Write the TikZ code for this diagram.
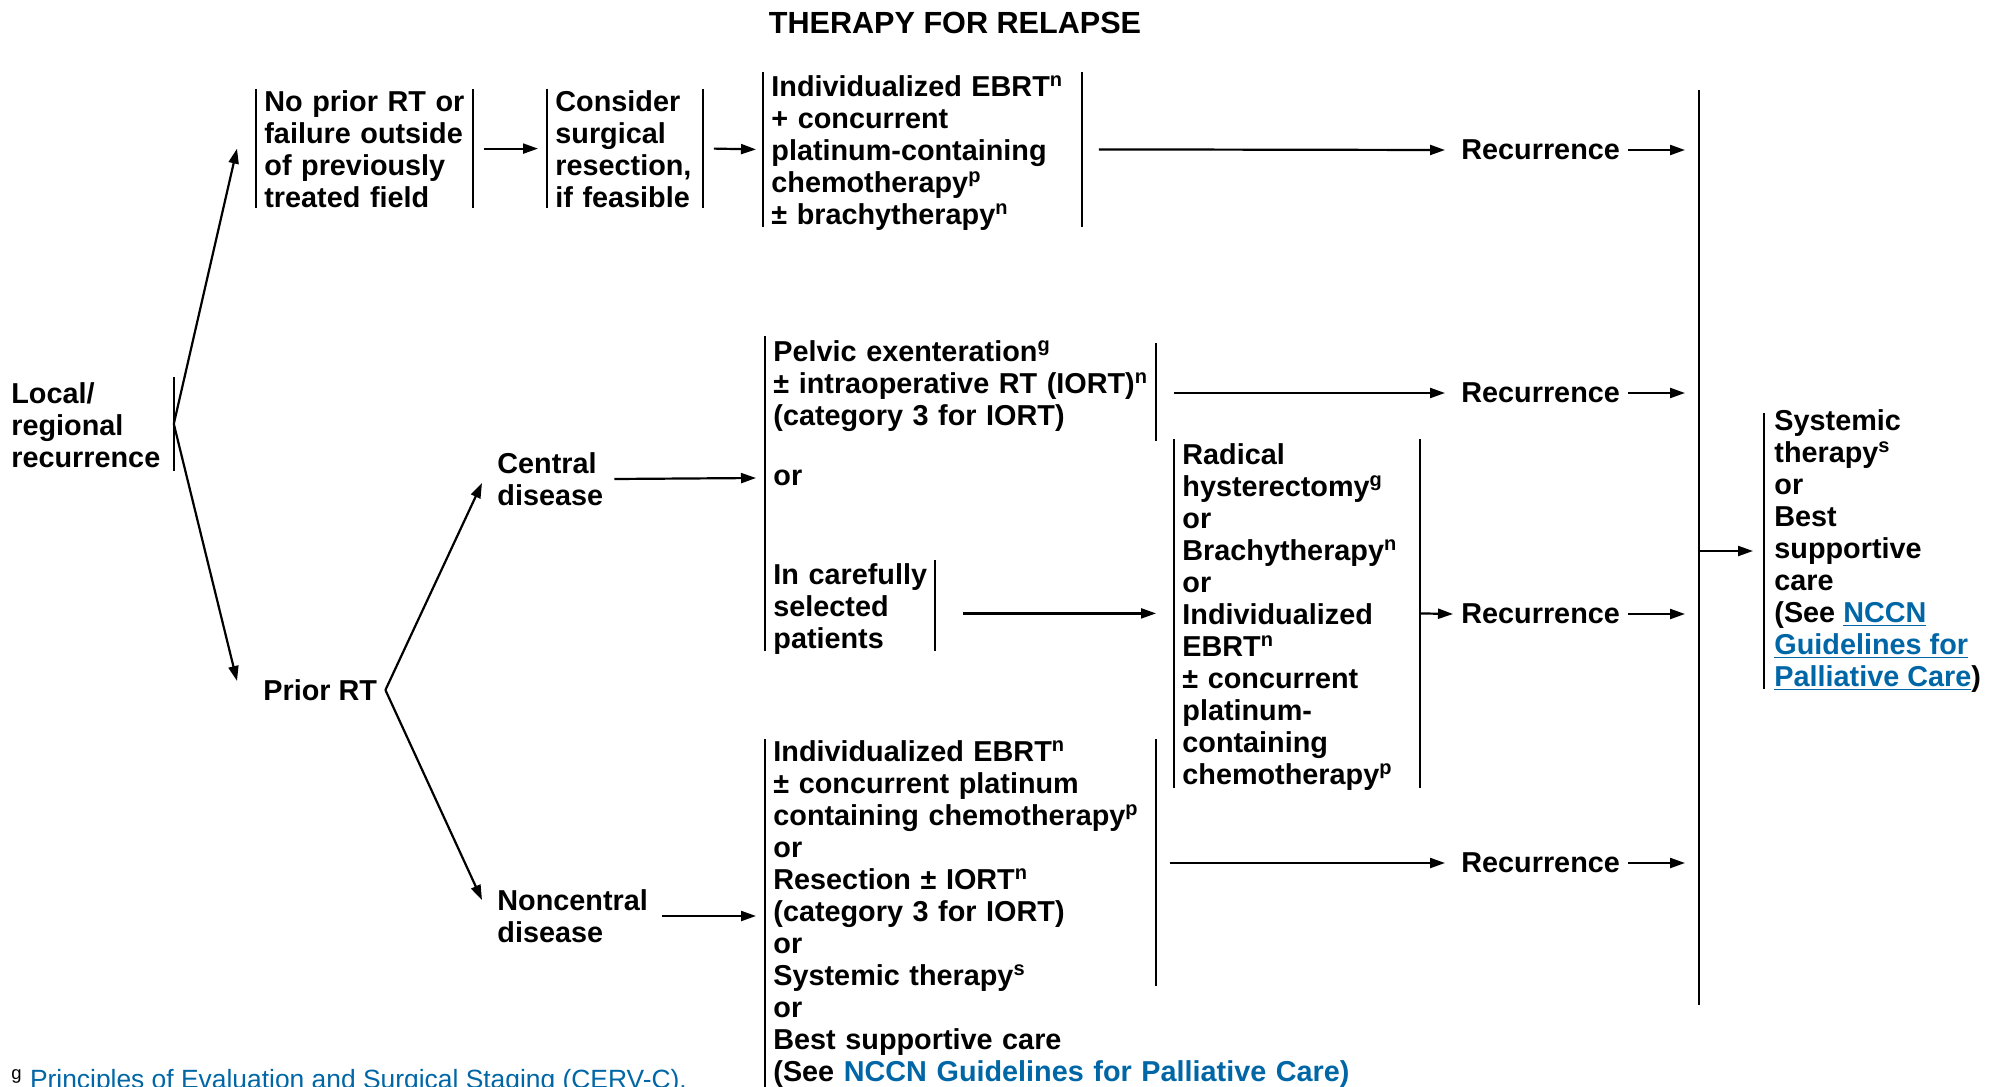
\documentclass[tikz,border=0pt]{standalone}
\usepackage{fontspec}
\setmainfont{Liberation Sans}
\usetikzlibrary{arrows.meta}
\definecolor{linkblue}{RGB}{0,102,166}
\newcommand{\diagfont}{\fontsize{14.4}{16}\selectfont\bfseries}
\newcommand{\lnk}[1]{{\color{linkblue}\underline{#1}}}
\newcommand{\txtlines}[1]{\raisebox{0pt}[\height][\dimexpr\depth-4.8pt\relax]{\begin{tabular}{@{}l@{}}#1\end{tabular}}}
\tikzset{
  txt/.style={font=\diagfont, align=left, inner xsep=4pt, inner ysep=0pt},
  box/.style={font=\diagfont, inner xsep=4pt, inner ysep=0pt, anchor=north west, text width=#1},
  bar/.style={line width=1.3pt},
  arr/.style={line width=1.1pt, -{Triangle[length=7.5pt,width=5pt]}},
}
\begin{document}
\begin{tikzpicture}[x=0.5pt,y=-0.5pt]
  \useasboundingbox (0,0) rectangle (1990,1086);
  \node[txt, font=\fontsize{15.3}{17}\selectfont\bfseries] (title) at (955,23) {THERAPY FOR RELAPSE};

  \node[box=77pt, minimum height=46.5pt] (local) at (3,377) {\txtlines{Local/\\regional\\recurrence}};
  \node[txt, anchor=west] (prior) at (255,690) {Prior RT};
  \node[txt, anchor=west] (central) at (489,479) {Central\\disease};
  \node[txt, anchor=west] (noncentral) at (489,916) {Noncentral\\disease};

  \node[box=100pt, minimum height=59pt] (noprior) at (256,89) {\txtlines{No prior RT or\\failure outside\\of previously\\treated field}};
  \node[box=69.5pt, minimum height=59pt] (consider) at (547,89) {\txtlines{Consider\\surgical\\resection,\\if feasible}};
  \node[box=151pt, minimum height=77pt] (ebrt) at (763,72) {\txtlines{Individualized EBRT\textsuperscript{n}\\+ concurrent\\platinum-containing\\chemotherapy\textsuperscript{p}\\± brachytherapy\textsuperscript{n}}};

  \node[box=187pt] (pelvic) at (765,339) {\txtlines{Pelvic exenteration\textsuperscript{g}\\± intraoperative RT (IORT)\textsuperscript{n}\\(category 3 for IORT)}};
  \node[txt, anchor=west] (orc) at (765,478) {or};
  \node[box=76.5pt, minimum height=45pt] (careful) at (765,560) {\txtlines{In carefully\\selected\\patients}};
  \node[box=114.5pt, minimum height=174pt] (radical) at (1174,439) {\txtlines{Radical\\hysterectomy\textsuperscript{g}\\or\\Brachytherapy\textsuperscript{n}\\or\\Individualized\\EBRT\textsuperscript{n}\\± concurrent\\platinum-\\containing\\chemotherapy\textsuperscript{p}}};
  \node[box=187pt] (nonc) at (765,739) {\txtlines{Individualized EBRT\textsuperscript{n}\\± concurrent platinum\\containing chemotherapy\textsuperscript{p}\\or\\Resection ± IORT\textsuperscript{n}\\(category 3 for IORT)\\or\\Systemic therapy\textsuperscript{s}\\or\\Best supportive care\\(See \lnk{NCCN Guidelines for Palliative Care)}}};

  \node[txt, anchor=west] (rec1) at (1453,150) {Recurrence};
  \node[txt, anchor=west] (rec2) at (1453,393) {Recurrence};
  \node[txt, anchor=west] (rec3) at (1453,614) {Recurrence};
  \node[txt, anchor=west] (rec4) at (1453,863) {Recurrence};
  \coordinate (spinetop) at (1699,90);
  \coordinate (spinebot) at (1699,1005);
  \node[txt, anchor=west, minimum height=138.5pt, inner xsep=5pt] (syst) at (1764,551) {Systemic\\therapy\textsuperscript{s}\\or\\Best\\supportive\\care\\(See \lnk{NCCN}\\\lnk{Guidelines for}\\\lnk{Palliative Care})};

  \node[anchor=base west, inner sep=0pt, font=\fontsize{13.2}{15}\selectfont] (foot) at (11,1088) {\textsuperscript{g} \color{linkblue}Principles of Evaluation and Surgical Staging (CERV-C).};

  \draw[bar] (local.north east) -- (local.south east);
  \draw[bar] (noprior.north west) -- (noprior.south west);
  \draw[bar] (noprior.north east) -- (noprior.south east);
  \draw[bar] (consider.north west) -- (consider.south west);
  \draw[bar] (consider.north east) -- (consider.south east);
  \draw[bar] (ebrt.north west) -- (ebrt.south west);
  \draw[bar] (ebrt.north east) -- (ebrt.south east);
  \draw[bar] ([yshift=1.5pt]pelvic.north west) -- (careful.south west);
  \draw[bar] ([yshift=-2pt]pelvic.north east) -- ([yshift=-7.5pt]pelvic.south east);
  \draw[bar] (careful.north east) -- (careful.south east);
  \draw[bar] (radical.north west) -- (radical.south west);
  \draw[bar] (radical.north east) -- (radical.south east);
  \draw[bar] (nonc.north west) -- ([yshift=-5pt]nonc.south west);
  \draw[bar] (nonc.north east) -- ++(0,247);
  \draw[bar] ([yshift=-2pt]syst.north west) -- ([yshift=2pt]syst.south west);
  \draw[bar] (spinetop) -- (spinebot);

  \draw[arr] (local.east) -- ([xshift=-9.5pt]noprior.west);
  \draw[arr] (local.east) -- ([xshift=-9pt,yshift=4.5pt]prior.west);
  \draw[arr] (prior.east) -- ([xshift=-3.5pt,yshift=-2pt]central.west);
  \draw[arr] (prior.east) -- ([xshift=-3.5pt,yshift=8pt]noncentral.west);
  \draw[arr] ([xshift=5.5pt]noprior.east) -- ([xshift=-4.5pt]consider.west);
  \draw[arr] ([xshift=5.5pt]consider.east) -- ([xshift=-3.5pt]ebrt.west);
  \draw[arr] ([xshift=8.5pt]ebrt.east) -- ([xshift=-4pt]rec1.west);
  \draw[arr] ([xshift=9pt]pelvic.east |- rec2.west) -- ([xshift=-4pt]rec2.west);
  \draw[arr] ([xshift=1.5pt]central.east) -- ([xshift=-4.5pt]orc.west);
  \draw[arr] ([xshift=14pt]careful.east |- radical.west) -- ([xshift=-9pt]radical.west);
  \draw[arr] (radical.east) -- (rec3.west);
  \draw[arr] ([xshift=3pt]noncentral.east) -- ([xshift=-4.5pt]nonc.west |- noncentral.east);
  \draw[arr] ([xshift=7pt]nonc.east |- rec4.west) -- ([xshift=-4pt]rec4.west);
  \draw[arr] (rec1.east) -- ([xshift=-7pt]rec1.east -| spinetop);
  \draw[arr] (rec2.east) -- ([xshift=-7pt]rec2.east -| spinetop);
  \draw[arr] (rec3.east) -- ([xshift=-7pt]rec3.east -| spinetop);
  \draw[arr] (rec4.east) -- ([xshift=-7pt]rec4.east -| spinetop);
  \draw[arr] (spinetop |- syst.west) -- ([xshift=-5.5pt]syst.west);
\end{tikzpicture}
\end{document}
